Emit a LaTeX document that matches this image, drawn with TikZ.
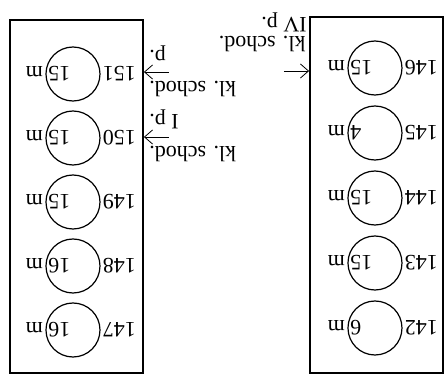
\documentclass[tikz,border=0pt]{standalone}
\usepackage{fontspec}
\setmainfont{Liberation Serif}
\usetikzlibrary{calc,arrows.meta}

\begin{document}
\begin{tikzpicture}[x=0.5pt,y=-0.5pt,rotate=180,transform shape,
    font=\fontsize{11}{12}\selectfont]
    \useasboundingbox (0,0) rectangle (446,376);
    % the two wings
    \node[draw,line width=0.9pt,minimum width=66.5pt,minimum height=178pt,inner sep=0pt] (wingL) at (69.5,181) {};
    \node[draw,line width=0.9pt,minimum width=66.5pt,minimum height=176.5pt,inner sep=0pt] (wingR) at (369.5,179.5) {};
    % rooms of the left wing
    \node[circle,draw,line width=0.6pt,minimum size=27pt,inner sep=0pt] (c142) at (71,48) {};
    \node[circle,draw,line width=0.6pt,minimum size=27pt,inner sep=0pt] (c143) at (71,113) {};
    \node[circle,draw,line width=0.6pt,minimum size=27pt,inner sep=0pt] (c144) at (71,178) {};
    \node[circle,draw,line width=0.6pt,minimum size=27pt,inner sep=0pt] (c145) at (71,243) {};
    \node[circle,draw,line width=0.6pt,minimum size=27pt,inner sep=0pt] (c146) at (71,308) {};
    % rooms of the right wing
    \node[circle,draw,line width=0.6pt,minimum size=27pt,inner sep=0pt] (c147) at (373,46) {};
    \node[circle,draw,line width=0.6pt,minimum size=27pt,inner sep=0pt] (c148) at (373,110) {};
    \node[circle,draw,line width=0.6pt,minimum size=27pt,inner sep=0pt] (c149) at (373,174) {};
    \node[circle,draw,line width=0.6pt,minimum size=27pt,inner sep=0pt] (c150) at (373,238) {};
    \node[circle,draw,line width=0.6pt,minimum size=27pt,inner sep=0pt] (c151) at (373,302) {};
    % room numbers
    \node[anchor=east,inner sep=1pt] (n142) at (c142.west) {142};
    \node[anchor=east,inner sep=1pt] (n143) at (c143.west) {143};
    \node[anchor=east,inner sep=1pt] (n144) at (c144.west) {144};
    \node[anchor=east,inner sep=1pt] (n145) at (c145.west) {145};
    \node[anchor=east,inner sep=1pt] (n146) at (c146.west) {146};
    \node[anchor=east,inner sep=1pt] (n147) at (c147.west) {147};
    \node[anchor=east,inner sep=1pt] (n148) at (c148.west) {148};
    \node[anchor=east,inner sep=1pt] (n149) at (c149.west) {149};
    \node[anchor=east,inner sep=1pt] (n150) at (c150.west) {150};
    \node[anchor=east,inner sep=1pt] (n151) at (c151.west) {151};
    % depths
    \node[anchor=east,inner sep=0pt] (m142) at ($(c142.east)+(20,0)$) {6 m};
    \node[anchor=east,inner sep=0pt] (m143) at ($(c143.east)+(20,0)$) {15 m};
    \node[anchor=east,inner sep=0pt] (m144) at ($(c144.east)+(20,0)$) {15 m};
    \node[anchor=east,inner sep=0pt] (m145) at ($(c145.east)+(20,0)$) {4 m};
    \node[anchor=east,inner sep=0pt] (m146) at ($(c146.east)+(20,0)$) {15 m};
    \node[anchor=east,inner sep=0pt] (m147) at ($(c147.east)+(20,0)$) {16 m};
    \node[anchor=east,inner sep=0pt] (m148) at ($(c148.east)+(20,0)$) {16 m};
    \node[anchor=east,inner sep=0pt] (m149) at ($(c149.east)+(20,0)$) {15 m};
    \node[anchor=east,inner sep=0pt] (m150) at ($(c150.east)+(20,0)$) {15 m};
    \node[anchor=east,inner sep=0pt] (m151) at ($(c151.east)+(20,0)$) {15 m};
    % staircases
    \coordinate (aL) at (162,305);
    \coordinate (aR150) at (277,239);
    \coordinate (aR151) at (277,304);
    \draw[-{Straight Barb[length=4pt,width=7pt]}] (aL) -- (aL -| wingL.east);
    \draw[-{Straight Barb[length=4pt,width=7pt]}] (aR150) -- (aR150 -| wingR.west);
    \draw[-{Straight Barb[length=4pt,width=7pt]}] (aR151) -- (aR151 -| wingR.west);
    \node[anchor=base west,inner sep=0pt] (sL1) at (140,339) {kl. schod.};
    \node[anchor=base west,inner sep=0pt] (sL2) at (139,358) {IV p.};
    \node[anchor=base east,inner sep=0pt] (sR1) at (297,229) {kl. schod.};
    \node[anchor=base east,inner sep=0pt] (sR2) at (297,261) {I p.};
    \node[anchor=base east,inner sep=0pt] (sR3) at (297,294) {kl. schod.};
    \node[anchor=base east,inner sep=0pt] (sR4) at (297,325) {p.};
  \end{tikzpicture}
\end{document}
